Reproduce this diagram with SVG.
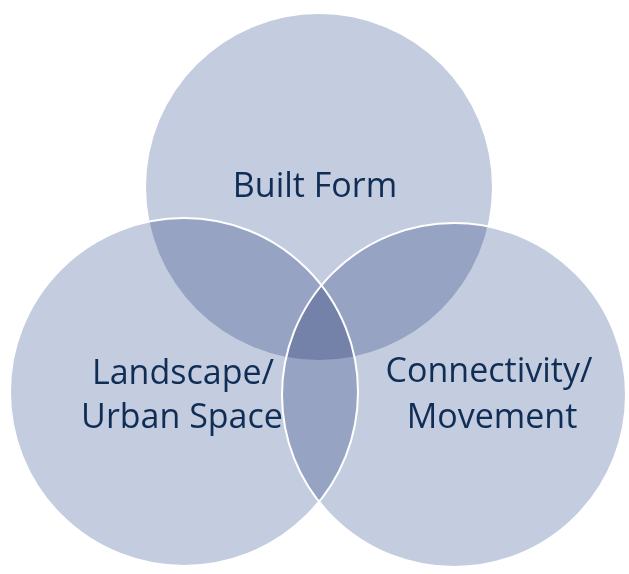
<svg xmlns="http://www.w3.org/2000/svg" width="629" height="574" viewBox="0 0 629 574">
<style>
.c{fill:#c4ccdf;mix-blend-mode:multiply}
.o{fill:none;stroke:#ffffff;stroke-width:2}
.t{font-family:"Open Sans","Noto Sans",sans-serif;font-size:34px;fill:#0f2d55;text-anchor:middle}
</style>
<rect width="629" height="574" fill="#ffffff"/>
<g id="builtform">
<circle class="c" cx="319" cy="187" r="173"/>
</g>
<g id="connectivity">
<circle class="c" cx="454" cy="395" r="172"/>
</g>
<g id="landscape">
<circle class="c" cx="184" cy="392" r="174"/>
</g>
<g id="outlines">
<circle class="o" cx="454" cy="395" r="172"/>
<circle class="o" cx="184" cy="392" r="174"/>
</g>
<g id="labels">
<text class="t" x="315" y="197">Built Form</text>
<text class="t" x="183" y="384">Landscape/</text>
<text class="t" x="182" y="428">Urban Space</text>
<text class="t" x="489" y="382">Connectivity/</text>
<text class="t" x="492" y="428">Movement</text>
</g>
</svg>
